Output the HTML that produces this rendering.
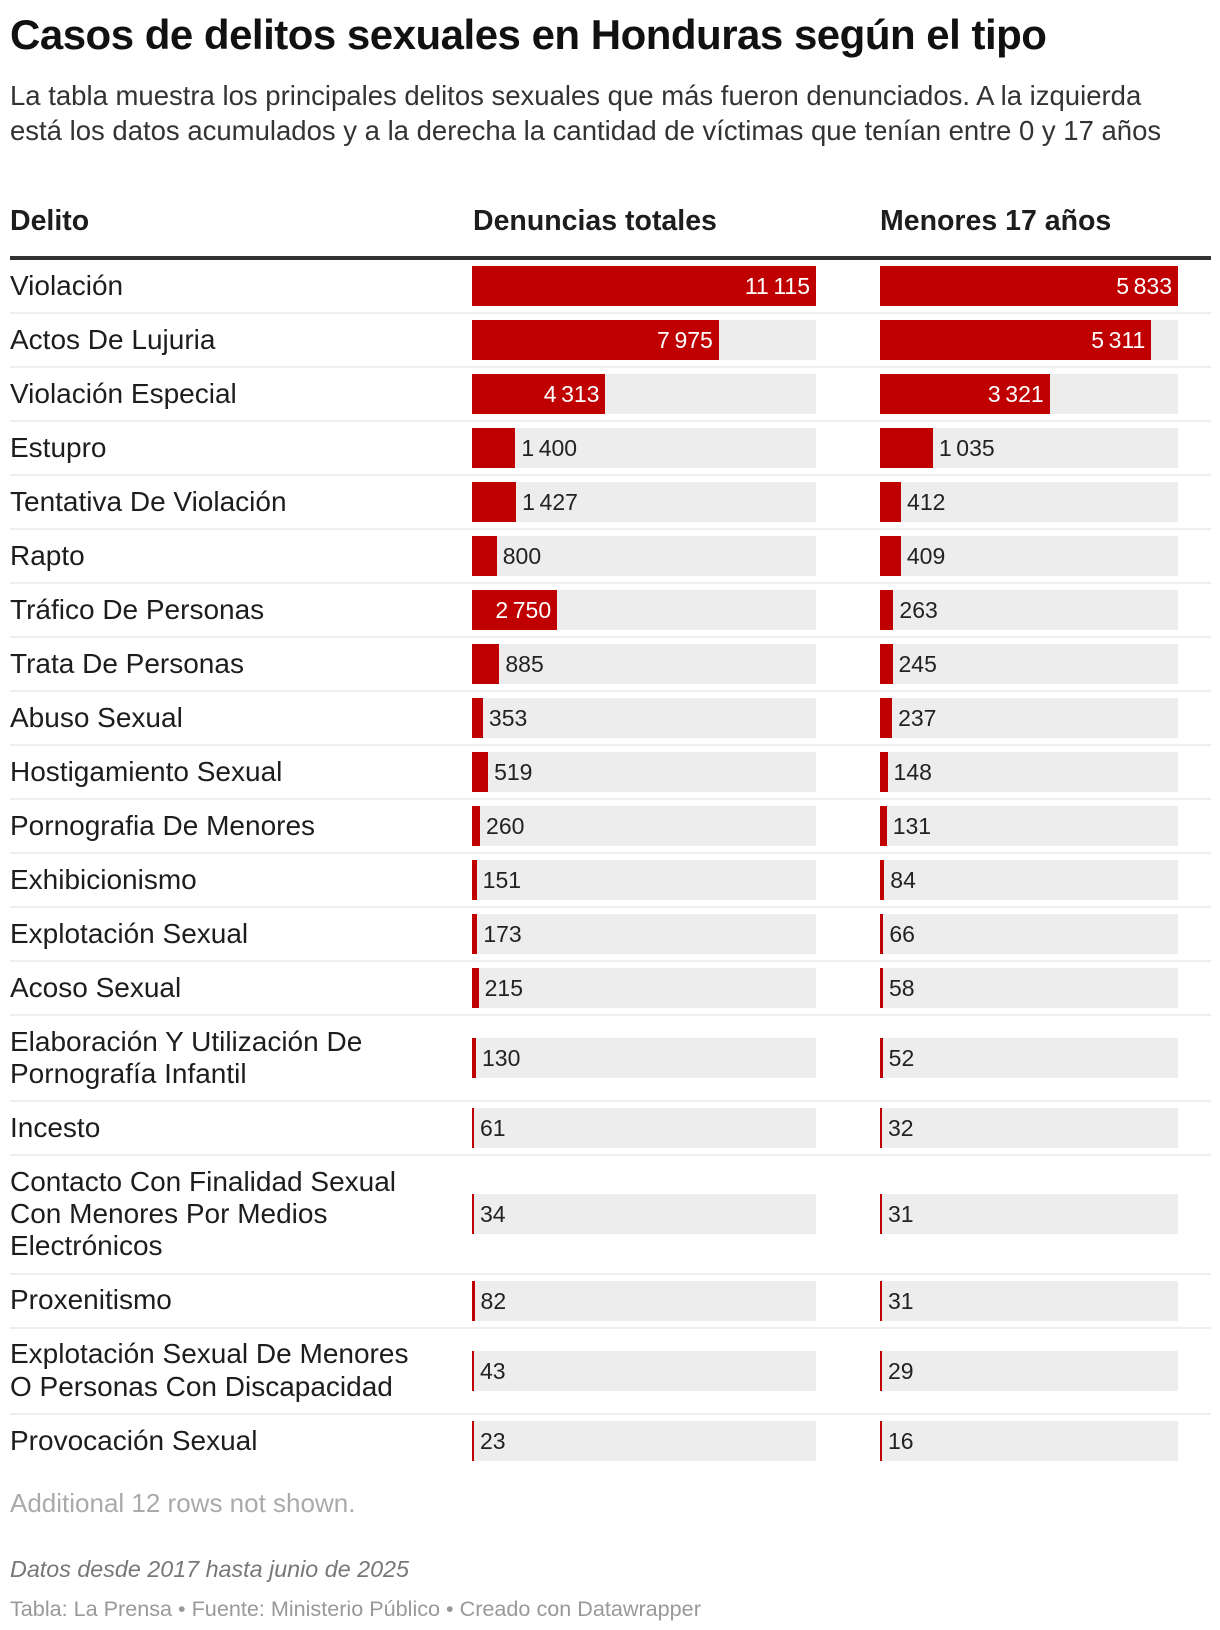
<!DOCTYPE html>
<html><head><meta charset="utf-8">
<style>
body{margin:0;background:#fff;font-family:"Liberation Sans",sans-serif;color:#1d1d1d;}
#wrap{position:relative;width:1220px;height:1630px;overflow:hidden;}
h1{position:absolute;left:10px;top:11px;margin:0;font-size:42px;font-weight:bold;color:#111;letter-spacing:-0.5px;}
.sub{position:absolute;left:10px;top:78px;width:1180px;font-size:27.5px;line-height:35px;color:#333;}
.hdr{position:absolute;top:205px;font-size:28.5px;font-weight:bold;color:#1d1d1d;}
#rule{position:absolute;left:10px;top:256px;width:1201px;height:4px;background:#333;}
#rows{position:absolute;left:10px;top:260px;width:1201px;}
.row{position:relative;border-bottom:2px solid #eee;padding:9.85px 0;}
.row:last-child{border-bottom:none;}
.lab{font-size:28px;line-height:32.3px;width:440px;}
.bg{position:absolute;background:#ededed;height:40px;top:50%;margin-top:-20px;}
.bar{position:absolute;left:0;top:0;height:40px;background:#c00000;}
.val{position:absolute;top:0;line-height:40px;font-size:23px;white-space:nowrap;}
.note{position:absolute;left:10px;top:1488px;font-size:26px;color:#aaa;}
.src1{position:absolute;left:10px;top:1556px;font-size:23.3px;font-style:italic;color:#777;}
.src2{position:absolute;left:10px;top:1596px;font-size:21.6px;color:#999;}
</style></head>
<body>
<div id="wrap">
<h1>Casos de delitos sexuales en Honduras según el tipo</h1>
<div class="sub">La tabla muestra los principales delitos sexuales que más fueron denunciados. A la izquierda está los datos acumulados y a la derecha la cantidad de víctimas que tenían entre 0 y 17 años</div>
<div class="hdr" style="left:10px">Delito</div>
<div class="hdr" style="left:473px">Denuncias totales</div>
<div class="hdr" style="left:880px">Menores 17 años</div>
<div id="rule"></div>
<div id="rows"></div>
<div class="note">Additional 12 rows not shown.</div>
<div class="src1">Datos desde 2017 hasta junio de 2025</div>
<div class="src2">Tabla: La Prensa • Fuente: Ministerio Público • Creado con Datawrapper</div>
</div>
<script>
const categories=["Violación","Actos De Lujuria","Violación Especial","Estupro","Tentativa De Violación","Rapto","Tráfico De Personas","Trata De Personas","Abuso Sexual","Hostigamiento Sexual","Pornografia De Menores","Exhibicionismo","Explotación Sexual","Acoso Sexual","Elaboración Y Utilización De<br>Pornografía Infantil","Incesto","Contacto Con Finalidad Sexual<br>Con Menores Por Medios<br>Electrónicos","Proxenitismo","Explotación Sexual De Menores<br>O Personas Con Discapacidad","Provocación Sexual"];
const totals=[11115,7975,4313,1400,1427,800,2750,885,353,519,260,151,173,215,130,61,34,82,43,23];
const minors=[5833,5311,3321,1035,412,409,263,245,237,148,131,84,66,58,52,32,31,31,29,16];
const fmt=v=>String(v).replace(/\B(?=(\d{3})+(?!\d))/g,"\u2009");
const cols=[{data:totals,x:462,w:344,name:"total"},{data:minors,x:870,w:298,name:"minors"}];
const rows=document.getElementById('rows');
categories.forEach((c,i)=>{
  const r=document.createElement('div');r.className='row';
  
  
  const l=document.createElement('div');l.className='lab';l.innerHTML=c;
  
  
  r.appendChild(l);
  cols.forEach(col=>{
    const max=Math.max(...col.data);const v=col.data[i];
    const bw=Math.max(2,v/max*col.w);
    const bg=document.createElement('div');bg.className='bg';
    bg.style.left=col.x+'px';bg.style.width=col.w+'px';
    
    
    const b=document.createElement('div');b.className='bar';b.style.width=bw+'px';
    
    
    bg.appendChild(b);
    const t=document.createElement('div');t.className='val';t.textContent=fmt(v);
    
    
    if(bw>70){t.style.right=(col.w-bw+6)+'px';t.style.color='#fff';}
    else{t.style.left=(bw+6)+'px';t.style.color='#222';}
    bg.appendChild(t);
    r.appendChild(bg);
  });
  rows.appendChild(r);
});
</script>
</body></html>
